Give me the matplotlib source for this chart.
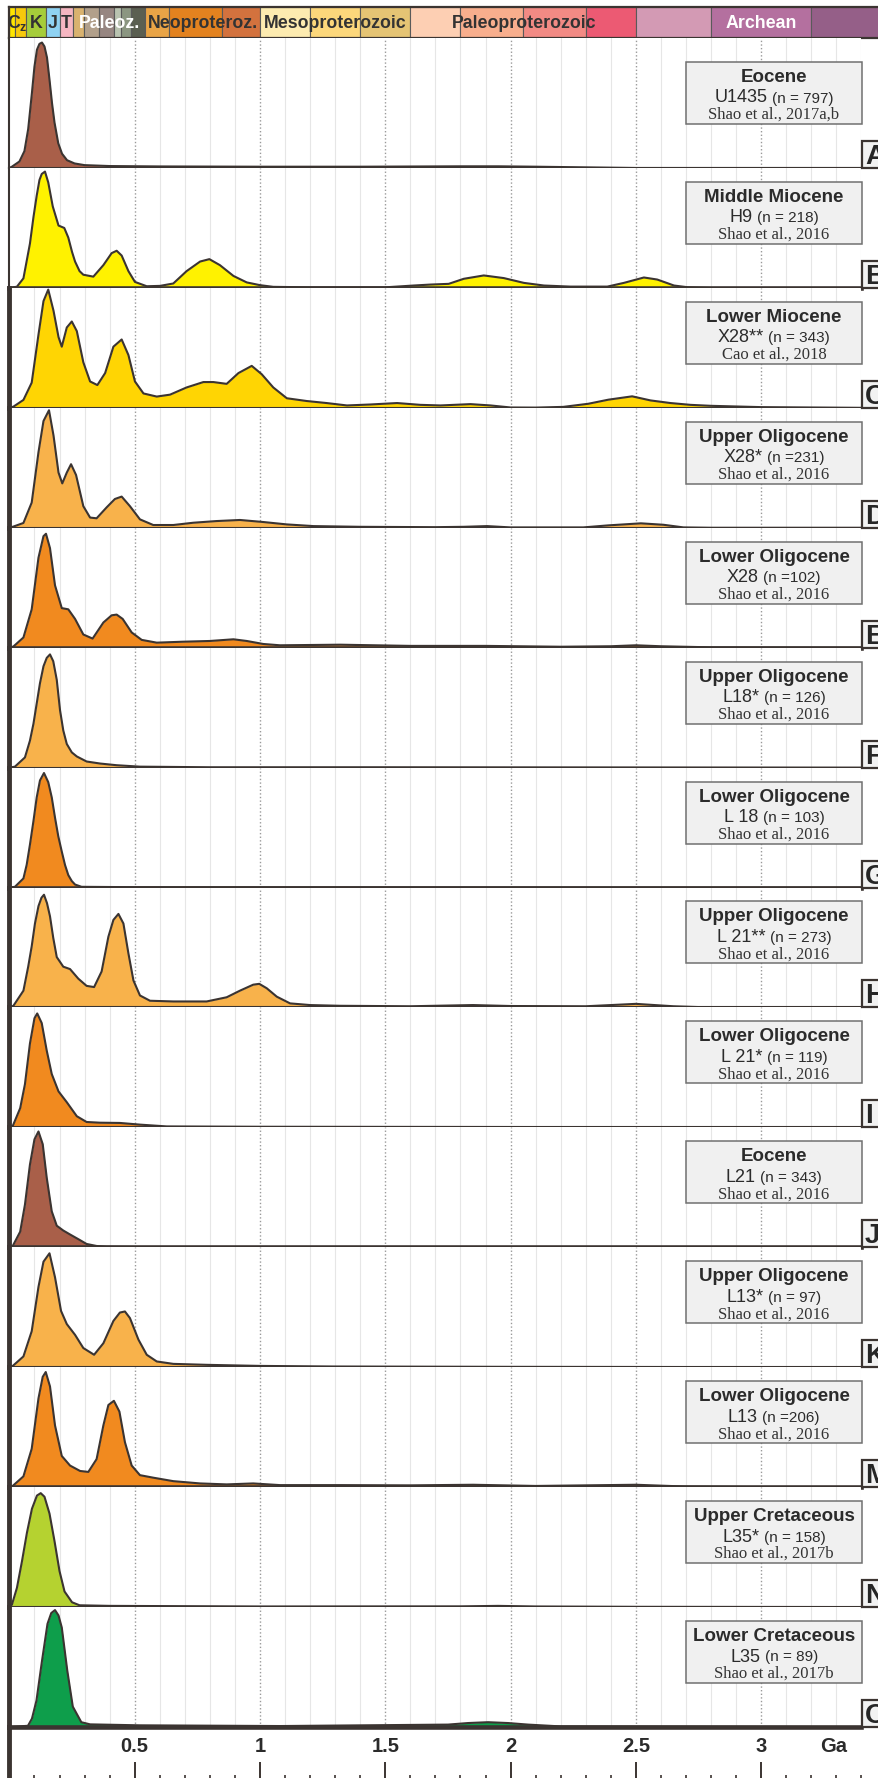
import numpy as np
import matplotlib
matplotlib.use("Agg")
import matplotlib.pyplot as plt
from matplotlib.patches import Rectangle

plt.rcParams['font.family'] = ['Liberation Sans', 'DejaVu Sans']
plt.rcParams['mathtext.default'] = 'regular'

# ---------------- DATA ----------------
# geological time scale (Ga)
ts_start = [0.0, 0.023, 0.066, 0.145, 0.201, 0.252, 0.299, 0.359, 0.419, 0.444, 0.485,
            0.541, 0.635, 0.850, 1.000, 1.200, 1.400, 1.600, 1.800, 2.050, 2.300,
            2.500, 2.800, 3.200]
ts_end = [0.023, 0.066, 0.145, 0.201, 0.252, 0.299, 0.359, 0.419, 0.444, 0.485, 0.541,
          0.635, 0.850, 1.000, 1.200, 1.400, 1.600, 1.800, 2.050, 2.300, 2.500,
          2.800, 3.200, 3.600]
ts_colors = ['#ffe500', '#f7c90c', '#a6cd3a', '#8fd2f2', '#f5b6c1', '#d9b26f', '#b2a08b',
             '#978681', '#b9c3b0', '#8b9681', '#5b5f51',
             '#e9a446', '#e3821f', '#d3723e', '#fdebb0', '#fcd77b', '#e5c474',
             '#fdcfb3', '#f8ae8d', '#f28a84', '#ec5a73', '#d39ab4', '#b4709f', '#955f88']
ts_labels = ['C$_z$', 'K', 'J', 'T', 'Paleoz.', 'Neoproteroz.', 'Mesoproterozoic',
             'Paleoproterozoic', 'Archean']
ts_label_pos = [0.030, 0.106, 0.173, 0.226, 0.400, 0.772, 1.300, 2.055, 3.000]
ts_label_col = ['#333333', '#333333', '#333333', '#333333', 'white', '#333333',
                '#333333', '#333333', 'white']

# density curves (age in Ga, relative density)
xA = [0.0, 0.01, 0.04, 0.06, 0.075, 0.09, 0.10, 0.11, 0.12, 0.13, 0.14, 0.15, 0.16, 0.17,
      0.18, 0.195, 0.21, 0.23, 0.26, 0.30, 0.40, 0.60, 1.0, 1.4, 1.8, 1.95, 2.1, 2.3, 2.5, 3.4]
yA = [0.0, 0.01, 0.05, 0.13, 0.30, 0.58, 0.78, 0.91, 0.955, 0.965, 0.935, 0.85, 0.68, 0.50,
      0.35, 0.19, 0.11, 0.06, 0.035, 0.022, 0.015, 0.012, 0.01, 0.01, 0.013, 0.013, 0.01,
      0.005, 0.0, 0.0]

xB = [0.0, 0.03, 0.056, 0.082, 0.096, 0.109, 0.12, 0.129, 0.142, 0.155, 0.173, 0.196, 0.219,
      0.235, 0.25, 0.262, 0.28, 0.295, 0.335, 0.375, 0.408, 0.428, 0.448, 0.475, 0.501, 0.548,
      0.601, 0.654, 0.707, 0.761, 0.798, 0.84, 0.894, 0.947, 1.0, 1.053, 1.2, 1.5, 1.613,
      1.68, 1.753, 1.813, 1.893, 1.973, 2.053, 2.133, 2.239, 2.386, 2.452, 2.532, 2.585,
      2.652, 2.705, 2.8, 3.4]
yB = [0.0, 0.01, 0.08, 0.37, 0.59, 0.77, 0.90, 0.95, 0.97, 0.88, 0.68, 0.52, 0.50, 0.42,
      0.30, 0.22, 0.14, 0.11, 0.094, 0.19, 0.29, 0.31, 0.27, 0.14, 0.05, 0.014, 0.017, 0.037,
      0.14, 0.22, 0.24, 0.19, 0.10, 0.046, 0.023, 0.009, 0.005, 0.005, 0.02, 0.028, 0.034,
      0.076, 0.104, 0.082, 0.042, 0.02, 0.011, 0.011, 0.042, 0.087, 0.07, 0.02, 0.006, 0.0, 0.0]

xC = [0.0, 0.016, 0.056, 0.089, 0.116, 0.136, 0.155, 0.176, 0.196, 0.209, 0.229, 0.249,
      0.269, 0.295, 0.322, 0.351, 0.382, 0.415, 0.448, 0.475, 0.501, 0.535, 0.588, 0.641,
      0.707, 0.774, 0.814, 0.867, 0.914, 0.967, 1.007, 1.053, 1.107, 1.186, 1.266, 1.347,
      1.44, 1.547, 1.64, 1.72, 1.84, 1.92, 2.0, 2.1, 2.21, 2.31, 2.39, 2.485, 2.558, 2.638,
      2.718, 2.798, 3.0, 3.4]
yC = [0.0, 0.01, 0.066, 0.21, 0.61, 0.89, 0.986, 0.81, 0.59, 0.51, 0.67, 0.72, 0.64, 0.38,
      0.22, 0.19, 0.29, 0.51, 0.57, 0.44, 0.22, 0.12, 0.094, 0.11, 0.17, 0.215, 0.215, 0.20,
      0.29, 0.35, 0.28, 0.17, 0.08, 0.057, 0.04, 0.02, 0.028, 0.04, 0.025, 0.02, 0.031, 0.02,
      0.003, 0.002, 0.008, 0.034, 0.068, 0.096, 0.062, 0.04, 0.025, 0.017, 0.006, 0.0]

xD = [0.0, 0.016, 0.056, 0.089, 0.116, 0.136, 0.158, 0.176, 0.196, 0.211, 0.229, 0.246,
      0.266, 0.295, 0.322, 0.348, 0.388, 0.421, 0.448, 0.481, 0.521, 0.574, 0.654, 0.734,
      0.827, 0.92, 1.013, 1.107, 1.213, 1.4, 1.7, 1.813, 1.906, 2.0, 2.29, 2.39, 2.52, 2.61,
      2.69, 2.8, 3.4]
yD = [0.0, 0.01, 0.04, 0.21, 0.63, 0.89, 0.98, 0.77, 0.46, 0.37, 0.46, 0.53, 0.44, 0.18,
      0.085, 0.079, 0.17, 0.24, 0.26, 0.18, 0.07, 0.023, 0.023, 0.042, 0.056, 0.065, 0.048,
      0.028, 0.014, 0.008, 0.005, 0.008, 0.014, 0.003, 0.003, 0.02, 0.037, 0.025, 0.003,
      0.0, 0.0]

xE = [0.0, 0.016, 0.056, 0.089, 0.116, 0.136, 0.146, 0.162, 0.182, 0.209, 0.235, 0.262,
      0.295, 0.332, 0.375, 0.408, 0.428, 0.452, 0.488, 0.528, 0.588, 0.694, 0.80, 0.894,
      0.947, 1.013, 1.08, 1.32, 1.6, 1.9, 2.2, 2.4, 2.5, 2.6, 2.8, 3.4]
yE = [0.0, 0.01, 0.085, 0.32, 0.75, 0.93, 0.95, 0.83, 0.52, 0.33, 0.32, 0.24, 0.11, 0.076,
      0.21, 0.27, 0.276, 0.24, 0.127, 0.065, 0.042, 0.05, 0.056, 0.07, 0.056, 0.031, 0.02,
      0.025, 0.015, 0.015, 0.008, 0.012, 0.02, 0.012, 0.003, 0.0]

xF = [0.0, 0.022, 0.062, 0.082, 0.096, 0.109, 0.122, 0.136, 0.149, 0.162, 0.175, 0.189,
      0.202, 0.215, 0.229, 0.249, 0.269, 0.308, 0.362, 0.428, 0.521, 0.8, 1.5, 3.4]
yF = [0.0, 0.008, 0.085, 0.225, 0.366, 0.535, 0.704, 0.845, 0.915, 0.944, 0.887, 0.732,
      0.479, 0.31, 0.197, 0.127, 0.093, 0.051, 0.034, 0.02, 0.008, 0.003, 0.003, 0.0]

xG = [0.0, 0.022, 0.056, 0.069, 0.082, 0.096, 0.109, 0.122, 0.138, 0.155, 0.169, 0.182,
      0.195, 0.209, 0.222, 0.235, 0.249, 0.262, 0.288, 0.5, 3.4]
yG = [0.0, 0.006, 0.076, 0.19, 0.358, 0.555, 0.752, 0.893, 0.955, 0.879, 0.752, 0.583,
      0.428, 0.30, 0.188, 0.104, 0.054, 0.025, 0.006, 0.003, 0.0]

xH = [0.0, 0.016, 0.056, 0.075, 0.089, 0.102, 0.116, 0.128, 0.138, 0.150, 0.162, 0.175,
      0.189, 0.215, 0.242, 0.275, 0.308, 0.338, 0.368, 0.395, 0.415, 0.435, 0.455, 0.475,
      0.495, 0.521, 0.561, 0.654, 0.787, 0.867, 0.920, 0.973, 0.997, 1.027, 1.067, 1.120,
      1.200, 1.319, 1.6, 1.85, 2.0, 2.3, 2.5, 2.65, 2.8, 3.4]
yH = [0.0, 0.014, 0.14, 0.34, 0.51, 0.70, 0.845, 0.915, 0.94, 0.87, 0.76, 0.58, 0.42, 0.34,
      0.32, 0.24, 0.18, 0.17, 0.30, 0.59, 0.73, 0.78, 0.70, 0.45, 0.225, 0.10, 0.056, 0.05,
      0.05, 0.085, 0.14, 0.19, 0.197, 0.16, 0.09, 0.034, 0.02, 0.014, 0.01, 0.02, 0.012,
      0.01, 0.03, 0.01, 0.0, 0.0]

xI = [0.0, 0.013, 0.043, 0.062, 0.082, 0.100, 0.111, 0.129, 0.149, 0.169, 0.196, 0.229,
      0.269, 0.308, 0.362, 0.441, 0.521, 0.628, 1.0, 2.0, 3.4]
yI = [0.0, 0.01, 0.16, 0.36, 0.70, 0.91, 0.95, 0.87, 0.64, 0.445, 0.30, 0.21, 0.093, 0.045,
      0.039, 0.037, 0.023, 0.008, 0.005, 0.003, 0.0]

xJ = [0.0, 0.013, 0.043, 0.062, 0.082, 0.100, 0.116, 0.133, 0.149, 0.169, 0.189, 0.215,
      0.242, 0.275, 0.308, 0.348, 0.388, 0.6, 3.4]
yJ = [0.0, 0.01, 0.13, 0.355, 0.69, 0.90, 0.966, 0.86, 0.58, 0.30, 0.18, 0.14, 0.107,
      0.068, 0.028, 0.011, 0.005, 0.0, 0.0]

xK = [0.0, 0.013, 0.056, 0.089, 0.116, 0.136, 0.160, 0.182, 0.206, 0.229, 0.262, 0.295,
      0.338, 0.375, 0.415, 0.441, 0.461, 0.481, 0.515, 0.548, 0.588, 0.654, 0.787, 1.0,
      1.293, 2.0, 3.4]
yK = [0.0, 0.01, 0.09, 0.30, 0.67, 0.88, 0.95, 0.75, 0.47, 0.36, 0.27, 0.16, 0.104, 0.20,
      0.386, 0.456, 0.465, 0.41, 0.23, 0.104, 0.048, 0.028, 0.02, 0.011, 0.006, 0.003, 0.0]

xM = [0.0, 0.013, 0.056, 0.089, 0.116, 0.133, 0.145, 0.162, 0.182, 0.209, 0.242, 0.282,
      0.315, 0.348, 0.375, 0.395, 0.417, 0.439, 0.461, 0.488, 0.521, 0.574, 0.654, 0.761,
      0.867, 0.973, 1.080, 1.319, 1.6, 1.85, 2.1, 2.5, 2.7, 3.0, 3.4]
yM = [0.0, 0.01, 0.09, 0.32, 0.74, 0.92, 0.96, 0.84, 0.515, 0.26, 0.18, 0.135, 0.127,
      0.234, 0.515, 0.685, 0.72, 0.63, 0.375, 0.18, 0.10, 0.079, 0.05, 0.031, 0.023, 0.031,
      0.017, 0.017, 0.015, 0.02, 0.01, 0.02, 0.005, 0.0, 0.0]

xN = [0.0, 0.01, 0.03, 0.05, 0.07, 0.09, 0.11, 0.125, 0.14, 0.16, 0.18, 0.20, 0.22, 0.25,
      0.28, 0.4, 1.0, 1.8, 1.95, 2.1, 2.5, 3.4]
yN = [0.0, 0.02, 0.16, 0.38, 0.62, 0.82, 0.93, 0.95, 0.92, 0.78, 0.55, 0.30, 0.13, 0.04,
      0.015, 0.01, 0.005, 0.006, 0.01, 0.005, 0.002, 0.0]

xO = [0.0, 0.074, 0.09, 0.108, 0.13, 0.152, 0.167, 0.182, 0.196, 0.209, 0.231, 0.253,
      0.287, 0.322, 0.52, 1.08, 1.75, 1.83, 1.91, 1.99, 2.07, 2.2, 3.4]
yO = [0.0, 0.01, 0.07, 0.22, 0.55, 0.86, 0.95, 0.975, 0.93, 0.83, 0.47, 0.17, 0.04, 0.022,
      0.014, 0.008, 0.02, 0.033, 0.04, 0.033, 0.02, 0.005, 0.0]

panel_letters = ['A', 'B', 'C', 'D', 'E', 'F', 'G', 'H', 'I', 'J', 'K', 'M', 'N', 'O']
panel_x = [xA, xB, xC, xD, xE, xF, xG, xH, xI, xJ, xK, xM, xN, xO]
panel_y = [yA, yB, yC, yD, yE, yF, yG, yH, yI, yJ, yK, yM, yN, yO]
stages = ['Eocene', 'Middle Miocene', 'Lower Miocene', 'Upper Oligocene', 'Lower Oligocene',
          'Upper Oligocene', 'Lower Oligocene', 'Upper Oligocene', 'Lower Oligocene', 'Eocene',
          'Upper Oligocene', 'Lower Oligocene', 'Upper Cretaceous', 'Lower Cretaceous']
samples = ['U1435', 'H9', 'X28**', 'X28*', 'X28', 'L18*', 'L 18', 'L 21**', 'L 21*', 'L21',
           'L13*', 'L13', 'L35*', 'L35']
counts = ['(n = 797)', '(n = 218)', '(n = 343)', '(n =231)', '(n =102)', '(n = 126)',
          '(n = 103)', '(n = 273)', '(n = 119)', '(n = 343)', '(n = 97)', '(n =206)',
          '(n = 158)', '(n = 89)']
refs = ['Shao et al., 2017a,b', 'Shao et al., 2016', 'Cao et al., 2018', 'Shao et al., 2016',
        'Shao et al., 2016', 'Shao et al., 2016', 'Shao et al., 2016', 'Shao et al., 2016',
        'Shao et al., 2016', 'Shao et al., 2016', 'Shao et al., 2016', 'Shao et al., 2016',
        'Shao et al., 2017b', 'Shao et al., 2017b']
axis_ticks = [0.5, 1.0, 1.5, 2.0, 2.5, 3.0]
axis_tick_labels = ['0.5', '1', '1.5', '2', '2.5', '3']

# ---------------- STYLE / LAYOUT ----------------
BROWN, YEL, GOLD, LORG, ORG, LGRN, GRN = ('#a95f49', '#fff200', '#ffd503', '#f8b24b',
                                          '#f18a1f', '#b5d230', '#0e9e4b')
fill_colors = [BROWN, YEL, GOLD, LORG, ORG, LORG, ORG, LORG, ORG, BROWN, LORG, ORG, LGRN, GRN]
thick_bottom = [False, True, False, False, True, False, True, False, False, True, False,
                True, False, True]
DARK = '#3b3431'

W, H = 879, 1778
fig = plt.figure(figsize=(W / 100, H / 100), dpi=100)
X0 = 9.4
PXGA = 250.6
XMAX = 3.4
XR = X0 + PXGA * XMAX


def fx(px):
    return px / W


def fy(py):
    return 1 - py / H


# time scale bar
TS_TOP, TS_BOT = 7, 38
ts_xmax = (W - X0) / PXGA
axt = fig.add_axes([fx(X0), fy(TS_BOT), fx(W) - fx(X0), (TS_BOT - TS_TOP) / H])
axt.bar(ts_start, [e - s for s, e in zip(ts_start, ts_end)], width=None, bottom=0,
        align='edge', color=ts_colors, edgecolor='#5a5a5a', linewidth=0.8) if False else None
for s, e, c in zip(ts_start, ts_end, ts_colors):
    axt.bar(s, 1, width=e - s, bottom=0, align='edge', color=c, edgecolor='#5a5a5a',
            linewidth=0.8)
axt.set_xlim(0, ts_xmax)
axt.set_ylim(0, 1)
axt.set_xticks([])
axt.set_yticks([])
for side in ['top', 'bottom', 'left']:
    axt.spines[side].set_linewidth(1.6)
    axt.spines[side].set_color(DARK)
axt.spines['right'].set_visible(False)
for lab, pos, col in zip(ts_labels, ts_label_pos, ts_label_col):
    axt.text(pos, 0.47, lab, ha='center', va='center', fontsize=12.8, fontweight='bold',
             color=col)

# panels
n_p = len(panel_letters)
base0 = 168.0
step = (1727.0 - base0) / (n_p - 1)
baselines = [base0 + step * k for k in range(n_p)]
tops = [TS_BOT] + baselines[:-1]

renderer = fig.canvas.get_renderer()

for i in range(n_p):
    top, base = tops[i], baselines[i]
    ax = fig.add_axes([fx(X0), fy(base), fx(XR) - fx(X0), (base - top) / H])
    ax.set_xlim(0, XMAX)
    ax.set_ylim(0, 1.0)
    ax.set_xticks(np.arange(0.5, 3.01, 0.5))
    ax.set_xticks(np.arange(0.1, 3.41, 0.1), minor=True)
    ax.grid(which='minor', axis='x', color='#e6e6e6', linewidth=0.8)
    ax.grid(which='major', axis='x', color='#9a9a9a', linewidth=1.0, linestyle=(0, (1, 1.6)))
    ax.tick_params(which='both', length=0, labelbottom=False, labelleft=False)
    ax.set_yticks([])
    ax.set_axisbelow(True)
    ax.fill_between(panel_x[i], 0, panel_y[i], color=fill_colors[i], linewidth=0, zorder=1.5)
    ax.plot(panel_x[i], panel_y[i], color=DARK, linewidth=1.5, zorder=2,
            solid_joinstyle='round')
    ax.spines['top'].set_visible(False)
    ax.spines['right'].set_visible(False)
    ax.spines['bottom'].set_color(DARK)
    ax.spines['left'].set_color(DARK)
    ax.spines['bottom'].set_linewidth(3.3 if thick_bottom[i] else 1.5)
    ax.spines['left'].set_linewidth(3.5 if i >= 2 else 1.5)

    # info box
    bt = base - 106
    bb = base - 44
    fig.add_artist(Rectangle((fx(686), fy(bb)), fx(862) - fx(686), (bb - bt) / H,
                             transform=fig.transFigure, facecolor='#f0f0f0',
                             edgecolor='#707070', linewidth=1.1, zorder=5))
    xc = (686 + 862) / 2
    fig.text(fx(xc), fy(bt + 20), stages[i], ha='center', va='baseline', fontsize=13.5,
             fontweight='bold', color='#2b2b2b', zorder=6)
    t1 = fig.text(0, fy(bt + 40.5), samples[i], ha='left', va='baseline', fontsize=13,
                  color='#2b2b2b', zorder=6)
    t2 = fig.text(0, fy(bt + 40.5), counts[i], ha='left', va='baseline', fontsize=11,
                  color='#2b2b2b', zorder=6)
    w1 = t1.get_window_extent(renderer).width
    w2 = t2.get_window_extent(renderer).width
    gap = 4.5
    left = xc - (w1 + gap + w2) / 2
    t1.set_x(fx(left))
    t2.set_x(fx(left + w1 + gap))
    fig.text(fx(xc), fy(bt + 57), refs[i], ha='center', va='baseline', fontsize=12,
             family=['Liberation Serif', 'DejaVu Serif'], color='#333333', zorder=6)

    # letter box
    fig.add_artist(Rectangle((fx(862), fy(base)), fx(910) - fx(862), 27 / H,
                             transform=fig.transFigure, facecolor='#f2f2f2',
                             edgecolor=DARK, linewidth=1.6, zorder=5))
    fig.text(fx(865), fy(base - 4), panel_letters[i], ha='left', va='baseline',
             fontsize=20, fontweight='bold', color='#262626', zorder=6)

# bottom age axis
AX_TOP, AX_BOT = 1727.0, 1782.0
axb = fig.add_axes([fx(X0), fy(AX_BOT), fx(XR) - fx(X0), (AX_BOT - AX_TOP) / H])
axb.set_xlim(0, XMAX)
axb.set_ylim(0, 1)
axb.set_yticks([])
axb.set_xticks(axis_ticks)
axb.set_xticks(np.arange(0.1, 3.41, 0.1), minor=True)
axb.tick_params(which='major', direction='in', length=14.5, width=1.4, color=DARK,
                labelbottom=False)
axb.tick_params(which='minor', direction='in', length=5, width=1.2, color=DARK)
axb.spines['top'].set_visible(False)
axb.spines['right'].set_visible(False)
axb.spines['bottom'].set_color(DARK)
axb.spines['left'].set_color(DARK)
axb.spines['left'].set_linewidth(3.5)
axb.patch.set_alpha(0)
for t, lab in zip(axis_ticks, axis_tick_labels):
    fig.text(fx(X0 + PXGA * t), fy(1747), lab, ha='center', va='center', fontsize=14.5,
             fontweight='bold', color='#2b2b2b')
fig.text(fx(X0 + PXGA * 3.29), fy(1747), 'Ga', ha='center', va='center', fontsize=14.5,
         fontweight='bold', color='#2b2b2b')

fig.savefig('out.png', dpi=100)
